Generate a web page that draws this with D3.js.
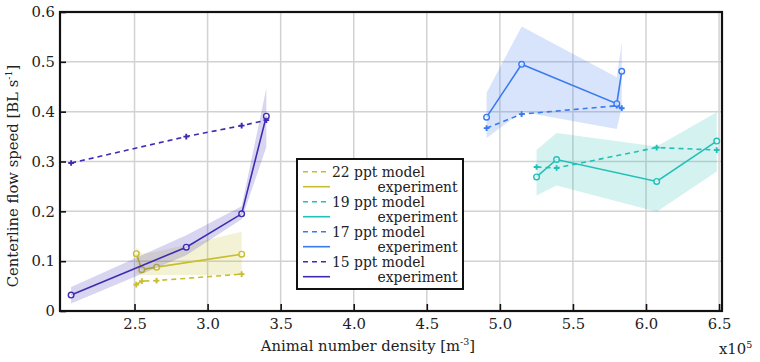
<!DOCTYPE html>
<html>
<head>
<meta charset="utf-8">
<script src="https://cdn.jsdelivr.net/npm/d3@7"></script>
<style>
  body { margin: 0; background: #fff; }
  svg { font-family: 'DejaVu Serif', serif; }
</style>
</head>
<body>
<svg id="chart" width="760" height="362"></svg>
<script>
// density in units of 1e5 m^-3, speed in BL/s
const x22 = [2.512, 2.55, 2.651, 3.233];
const model22 = [0.053, 0.06, 0.061, 0.074];
const exp22 = [0.115, 0.083, 0.088, 0.114];
const lo22 = [0.076, 0.072, 0.072, 0.072];
const hi22 = [0.128, 0.115, 0.119, 0.159];

const x19 = [5.251, 5.388, 6.073, 6.484];
const model19 = [0.289, 0.287, 0.328, 0.323];
const exp19 = [0.269, 0.304, 0.26, 0.341];
const lo19 = [0.232, 0.252, 0.199, 0.28];
const hi19 = [0.323, 0.357, 0.33, 0.399];

const x17 = [4.909, 5.149, 5.8, 5.834];
const model17 = [0.367, 0.395, 0.412, 0.407];
const exp17 = [0.389, 0.495, 0.416, 0.481];
const lo17 = [0.347, 0.4, 0.365, 0.41];
const hi17 = [0.438, 0.571, 0.469, 0.539];

const x15 = [2.066, 2.854, 3.233, 3.402];
const model15 = [0.297, 0.35, 0.372, 0.383];
const exp15 = [0.032, 0.128, 0.195, 0.391];
const lo15 = [0.015, 0.112, 0.184, 0.329];
const hi15 = [0.048, 0.152, 0.21, 0.447];

const xTicks = [2.5, 3.0, 3.5, 4.0, 4.5, 5.0, 5.5, 6.0, 6.5];
const yTicks = [0, 0.1, 0.2, 0.3, 0.4, 0.5, 0.6];

const series = [
  { name: '22 ppt', color: '#c8bd2c', x: x22, model: model22, exp: exp22, lo: lo22, hi: hi22 },
  { name: '19 ppt', color: '#22c0b6', x: x19, model: model19, exp: exp19, lo: lo19, hi: hi19 },
  { name: '17 ppt', color: '#3a7aef', x: x17, model: model17, exp: exp17, lo: lo17, hi: hi17 },
  { name: '15 ppt', color: '#3d2cb2', x: x15, model: model15, exp: exp15, lo: lo15, hi: hi15 },
];

const padding = { top: 12, left: 60, right: 38, bottom: 51 };
const width = 760 - padding.left - padding.right;
const height = 362 - padding.top - padding.bottom;
const fontSize = 14.8;

const svg = d3.select('#chart');
const canvas = svg.append('g').attr('transform', `translate(${padding.left}, ${padding.top})`);

const x = d3.scaleLinear().domain([1.99, 6.52]).range([0, width]);
const y = d3.scaleLinear().domain([0, 0.6]).range([height, 0]);

// Grid
canvas.append('g')
  .selectAll('line')
  .data(xTicks)
  .join('line')
  .attr('x1', d => x(d))
  .attr('x2', d => x(d))
  .attr('y1', 0)
  .attr('y2', height)
  .attr('stroke', '#d2d2d2')
  .attr('stroke-width', 1.5);

canvas.append('g')
  .selectAll('line')
  .data(yTicks.filter(d => d > 0 && d < 0.6))
  .join('line')
  .attr('x1', 0)
  .attr('x2', width)
  .attr('y1', d => y(d))
  .attr('y2', d => y(d))
  .attr('stroke', '#d2d2d2')
  .attr('stroke-width', 1.5);

// Bands, then lines, one salinity at a time
const area = d3.area()
  .x(d => x(d.x))
  .y0(d => y(d.lo))
  .y1(d => y(d.hi));
const line = d3.line()
  .x(d => x(d.x))
  .y(d => y(d.v));

series.forEach(s => {
  const g = canvas.append('g');
  const band = s.x.map((v, i) => ({ x: v, lo: s.lo[i], hi: s.hi[i] }));
  const model = s.x.map((v, i) => ({ x: v, v: s.model[i] }));
  const exp = s.x.map((v, i) => ({ x: v, v: s.exp[i] }));

  g.append('path')
    .attr('d', area(band))
    .attr('fill', s.color)
    .attr('fill-opacity', 0.2);

  g.append('path')
    .attr('d', line(model))
    .attr('fill', 'none')
    .attr('stroke', s.color)
    .attr('stroke-width', 1.6)
    .attr('stroke-dasharray', '5,4');

  g.selectAll('path.plus')
    .data(model)
    .join('path')
    .attr('class', 'plus')
    .attr('d', d3.symbol(d3.symbolCross, 18))
    .attr('transform', d => `translate(${x(d.x)}, ${y(d.v)})`)
    .attr('fill', s.color);

  g.append('path')
    .attr('d', line(exp))
    .attr('fill', 'none')
    .attr('stroke', s.color)
    .attr('stroke-width', 1.6);

  g.selectAll('circle')
    .data(exp)
    .join('circle')
    .attr('cx', d => x(d.x))
    .attr('cy', d => y(d.v))
    .attr('r', 2.8)
    .attr('fill', '#fff')
    .attr('fill-opacity', 0.7)
    .attr('stroke', s.color)
    .attr('stroke-width', 1.4);
});

// Frame and ticks
canvas.append('rect')
  .attr('width', width)
  .attr('height', height)
  .attr('fill', 'none')
  .attr('stroke', '#111')
  .attr('stroke-width', 2.2);

canvas.append('g')
  .attr('transform', `translate(0, ${height})`)
  .call(d3.axisBottom(x).tickValues(xTicks).tickSizeInner(-7).tickSizeOuter(0).tickFormat(d3.format('.1f')))
  .call(g => g.select('.domain').remove())
  .call(g => g.selectAll('line').attr('stroke', '#111').attr('stroke-width', 1.6))
  .call(g => g.selectAll('text')
    .attr('y', 18)
    .attr('dy', 0)
    .attr('font-size', fontSize)
    .attr('font-family', 'DejaVu Serif')
    .attr('fill', '#222'));

canvas.append('g')
  .call(d3.axisLeft(y).tickValues(yTicks).tickSizeInner(-6).tickSizeOuter(0).tickPadding(5)
    .tickFormat(d => (d === 0 ? '0' : d3.format('.1f')(d))))
  .call(g => g.select('.domain').remove())
  .call(g => g.selectAll('line').attr('stroke', '#111').attr('stroke-width', 1.6))
  .call(g => g.selectAll('text').attr('font-size', fontSize).attr('font-family', 'DejaVu Serif').attr('fill', '#222'));

// Axis labels
const xl = svg.append('text')
  .attr('x', 368)
  .attr('y', 351)
  .attr('text-anchor', 'middle')
  .attr('font-size', fontSize)
  .attr('fill', '#222')
  .text('Animal number density [m');
xl.append('tspan').attr('font-size', 9.5).attr('dy', -6).text('-3');
xl.append('tspan').attr('dy', 6).text(']');

const yl = svg.append('text')
  .attr('transform', 'translate(18, 176) rotate(-90)')
  .attr('text-anchor', 'middle')
  .attr('font-size', fontSize)
  .attr('fill', '#222')
  .text('Centerline flow speed [BL s');
yl.append('tspan').attr('font-size', 9.5).attr('dy', -6).text('-1');
yl.append('tspan').attr('dy', 6).text(']');

const ex = svg.append('text')
  .attr('x', 719)
  .attr('y', 354)
  .attr('font-size', fontSize)
  .attr('fill', '#222')
  .text('x10');
ex.append('tspan').attr('font-size', 9.5).attr('dy', -6).text('5');

// Legend
const legend = svg.append('g').attr('transform', 'translate(297, 159)');
legend.append('rect')
  .attr('width', 166)
  .attr('height', 130)
  .attr('fill', '#fff')
  .attr('stroke', '#111')
  .attr('stroke-width', 2);

const rows = series.flatMap(s => [
  { s, dash: '5,4', label: s.name + ' model' },
  { s, dash: null, label: 'experiment' },
]);

const probe = legend.append('text').attr('font-size', 13.9).text('22 ppt ');
const indent = probe.node().getComputedTextLength();
probe.remove();

rows.forEach((r, i) => {
  const cy = 12.7 + i * 15;
  legend.append('line')
    .attr('x1', 6)
    .attr('x2', 33)
    .attr('y1', cy)
    .attr('y2', cy)
    .attr('stroke', r.s.color)
    .attr('stroke-width', 1.6)
    .attr('stroke-dasharray', r.dash);
  legend.append('text')
    .attr('x', r.dash ? 35 : 35 + indent)
    .attr('y', cy + 4.8)
    .attr('font-size', 13.9)
    .attr('fill', '#222')
    .text(r.label);
});
</script>
</body>
</html>
